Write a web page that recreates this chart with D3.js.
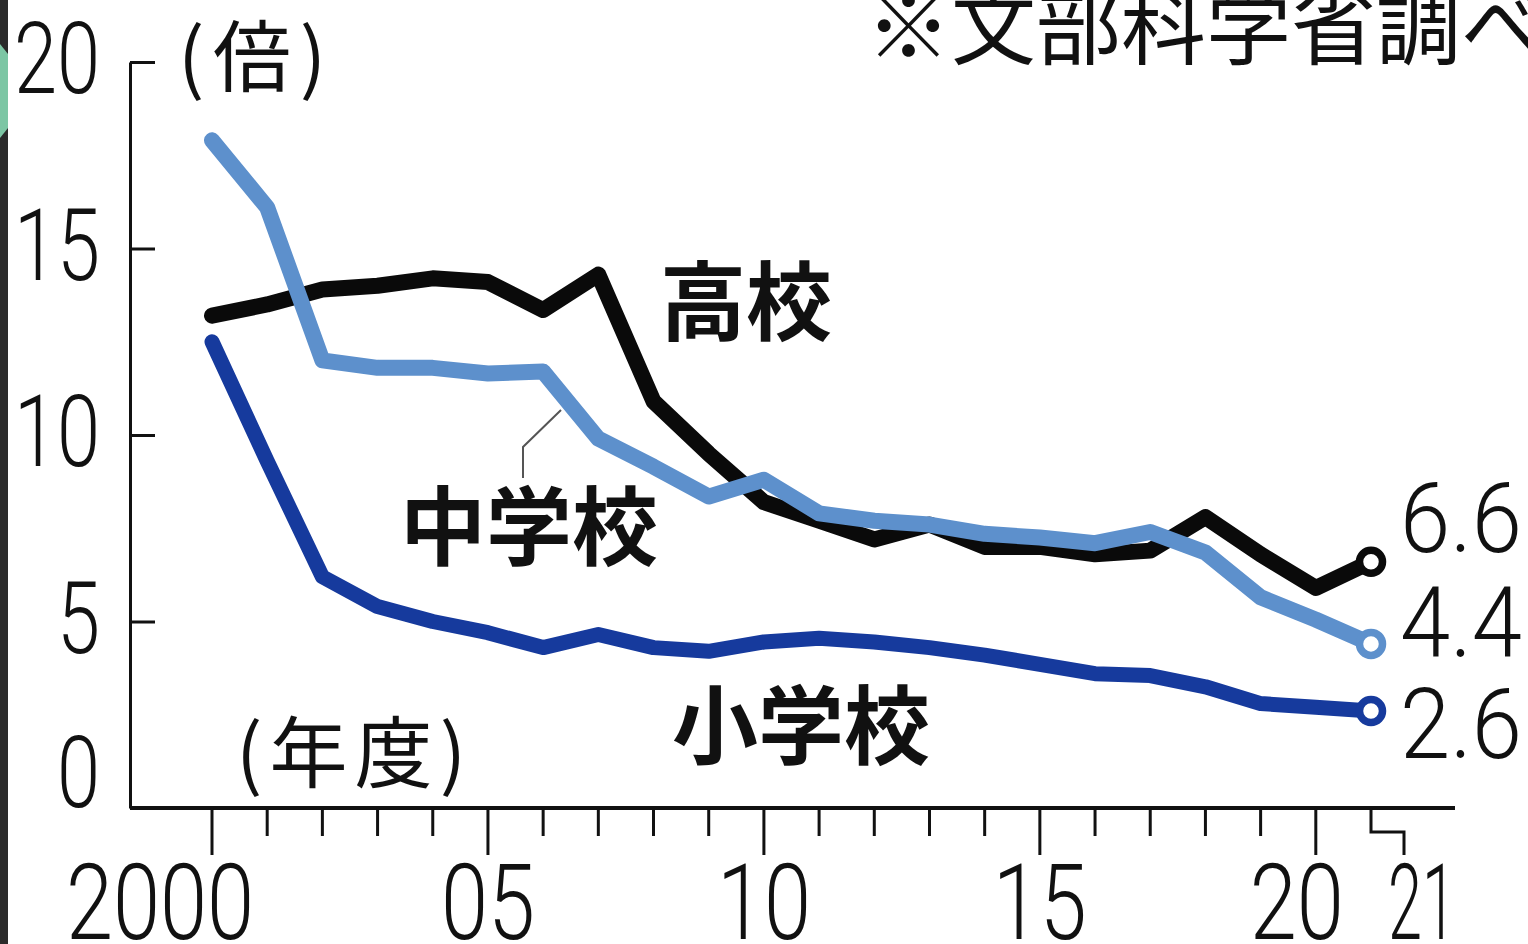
<!DOCTYPE html>
<html>
<head>
<meta charset="utf-8">
<script src="https://cdn.jsdelivr.net/npm/d3@7"></script>
<style>
  html, body { margin: 0; padding: 0; background: #fff; overflow: hidden; }
  svg { display: block; }
</style>
</head>
<body>
<div id="chart"></div>
<script>
// 年度
const years = [2000, 2001, 2002, 2003, 2004, 2005, 2006, 2007, 2008, 2009, 2010,
               2011, 2012, 2013, 2014, 2015, 2016, 2017, 2018, 2019, 2020, 2021];

// 倍率 (倍)
const highSchool = [13.2, 13.5, 13.9, 14.0, 14.2, 14.1, 13.35, 14.3, 10.9, 9.5, 8.2,
                    7.7, 7.2, 7.6, 7.0, 7.0, 6.8, 6.9, 7.8, 6.8, 5.9, 6.6];
const middleSchool = [17.9, 16.1, 12.0, 11.8, 11.8, 11.65, 11.7, 9.9, 9.15, 8.35, 8.8,
                      7.9, 7.7, 7.6, 7.35, 7.25, 7.1, 7.4, 6.85, 5.65, 5.05, 4.4];
const elementary = [12.5, 9.3, 6.2, 5.4, 5.0, 4.7, 4.3, 4.65, 4.3, 4.2, 4.45,
                    4.55, 4.45, 4.3, 4.1, 3.85, 3.6, 3.55, 3.25, 2.8, 2.7, 2.6];

const yTicks = [0, 5, 10, 15, 20];
const xTickYears = [2000, 2005, 2010, 2015, 2020, 2021];
const xTickLabels = ["2000", "05", "10", "15", "20", "21"];
const endLabels = ["6.6", "4.4", "2.6"];

const W = 1528, H = 944;
const NUM_FONT = "Roboto, 'Liberation Sans', sans-serif";
const JP_FONT = "'Noto Sans CJK JP', 'Noto Sans CJK SC', sans-serif";

const svg = d3.select("#chart").append("svg")
    .attr("width", W)
    .attr("height", H);

svg.append("rect").attr("width", W).attr("height", H).attr("fill", "#fff");

// left edge of the screenshot
svg.append("rect").attr("x", 0).attr("y", 0).attr("width", 8).attr("height", H).attr("fill", "#2b2b2b");
svg.append("path").attr("d", "M0,44 L8,54 L8,128 L0,138 Z").attr("fill", "#7cc6a4");

const x = d3.scaleLinear().domain([2000, 2021]).range([212, 1371]);
const y = d3.scaleLinear().domain([0, 20]).range([808, 62]);

// y axis: ticks point inward
const yAxis = d3.axisRight(y).tickValues(yTicks).tickSize(25).tickSizeOuter(0).tickFormat("");
svg.append("g")
    .attr("transform", "translate(130,0)")
    .call(yAxis)
    .call(g => g.selectAll("path, line").attr("stroke", "#111").attr("stroke-width", 3));

svg.append("g").selectAll("text")
    .data(yTicks)
    .enter()
    .append("text")
    .attr("x", 100)
    .attr("y", d => d === 0 ? y(d) - 1 : y(d) + 31)
    .attr("text-anchor", "end")
    .attr("font-family", NUM_FONT)
    .attr("font-weight", 300)
    .attr("font-size", 100)
    .attr("textLength", d => String(d).length * 43)
    .attr("lengthAdjust", "spacingAndGlyphs")
    .attr("fill", "#111")
    .text(d => d);

// x axis baseline
svg.append("line")
    .attr("x1", 130).attr("x2", 1455)
    .attr("y1", y(0)).attr("y2", y(0))
    .attr("stroke", "#111").attr("stroke-width", 4);

// year ticks
svg.append("g").selectAll("path")
    .data(years)
    .enter()
    .append("path")
    .attr("d", d => {
        const px = x(d), py = y(0);
        if (d === 2021) return `M${px},${py} V${py + 24} H${px + 33} V${py + 47}`;
        return `M${px},${py} V${py + (d % 5 === 0 ? 47 : 28)}`;
    })
    .attr("fill", "none")
    .attr("stroke", "#111")
    .attr("stroke-width", 3);

const xLabelShift = { 2000: -52, 2020: -19, 2021: 51 };
svg.append("g").selectAll("text")
    .data(xTickYears)
    .enter()
    .append("text")
    .attr("x", d => x(d) + (xLabelShift[d] || 0))
    .attr("y", 939)
    .attr("text-anchor", "middle")
    .attr("font-family", NUM_FONT)
    .attr("font-weight", 300)
    .attr("font-size", 106)
    .attr("textLength", (d, i) => xTickLabels[i] === "21" ? 68 : xTickLabels[i].length * 47)
    .attr("lengthAdjust", "spacingAndGlyphs")
    .attr("fill", "#111")
    .text((d, i) => xTickLabels[i]);

// series
const series = [
    { name: "高校", values: highSchool, color: "#0a0a0a", width: 16 },
    { name: "中学校", values: middleSchool, color: "#5d90cc", width: 16 },
    { name: "小学校", values: elementary, color: "#163a9d", width: 15 }
];

const line = d3.line()
    .x((d, i) => x(years[i]))
    .y(d => y(d));

svg.append("g").selectAll("path")
    .data(series)
    .enter()
    .append("path")
    .attr("d", d => line(d.values))
    .attr("fill", "none")
    .attr("stroke", d => d.color)
    .attr("stroke-width", d => d.width)
    .attr("stroke-linejoin", "round")
    .attr("stroke-linecap", "round");

// end markers
svg.append("g").selectAll("circle")
    .data(series)
    .enter()
    .append("circle")
    .attr("cx", x(2021))
    .attr("cy", d => y(d.values[d.values.length - 1]))
    .attr("r", 11.5)
    .attr("fill", "#fff")
    .attr("stroke", d => d.color)
    .attr("stroke-width", 7.5);

// end values
const endDy = [-10, 13, 47];
svg.append("g").selectAll("text")
    .data(series)
    .enter()
    .append("text")
    .attr("x", 1400)
    .attr("y", (d, i) => y(d.values[d.values.length - 1]) + endDy[i])
    .attr("font-family", NUM_FONT)
    .attr("font-weight", 300)
    .attr("font-size", 98)
    .attr("textLength", 122)
    .attr("lengthAdjust", "spacingAndGlyphs")
    .attr("fill", "#111")
    .text((d, i) => endLabels[i]);

// series names
const names = [
    { text: "高校", x: 660, y: 334 },
    { text: "中学校", x: 400, y: 559 },
    { text: "小学校", x: 672, y: 758 }
];
svg.append("g").selectAll("text")
    .data(names)
    .enter()
    .append("text")
    .attr("x", d => d.x)
    .attr("y", d => d.y)
    .attr("font-family", JP_FONT)
    .attr("font-weight", 700)
    .attr("font-size", 86)
    .attr("fill", "#111")
    .text(d => d.text);

// leader for 中学校
svg.append("path")
    .attr("d", "M523,478 V447 L561,410")
    .attr("fill", "none")
    .attr("stroke", "#555")
    .attr("stroke-width", 2);

// unit / notes
svg.append("text")
    .attr("x", 178).attr("y", 86)
    .attr("font-family", JP_FONT).attr("font-size", 78)
    .attr("textLength", 148).attr("lengthAdjust", "spacing")
    .attr("fill", "#111")
    .text("(倍)");

svg.append("text")
    .attr("x", 236).attr("y", 782)
    .attr("font-family", JP_FONT).attr("font-size", 78)
    .attr("textLength", 230).attr("lengthAdjust", "spacing")
    .attr("fill", "#111")
    .text("(年度)");

svg.append("text")
    .attr("x", 866).attr("y", 58)
    .attr("font-family", JP_FONT).attr("font-size", 85)
    .attr("fill", "#111")
    .text("※文部科学省調べ");
</script>
</body>
</html>
